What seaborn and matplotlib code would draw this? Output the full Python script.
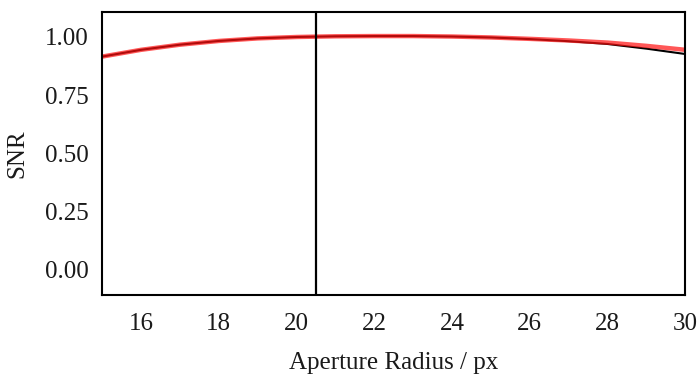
import numpy as np
import pandas as pd
import matplotlib
matplotlib.use("Agg")
import matplotlib.pyplot as plt
import seaborn as sns

# =====================================================
# Data
# =====================================================

radius = [15, 16, 17, 18, 19, 20, 21, 22, 23, 24, 25, 26, 27, 28, 29, 30]

snr_measured = [0.915, 0.944, 0.966, 0.982, 0.993, 0.999, 1.002, 1.003,
                1.003, 1.001, 0.997, 0.990, 0.981, 0.969, 0.949, 0.926]

snr_model = [0.915, 0.944, 0.966, 0.982, 0.993, 0.999, 1.002, 1.003,
             1.003, 1.001, 0.997, 0.991, 0.984, 0.975, 0.961, 0.944]

best_radius = 20.5

df = pd.DataFrame({
    "radius": radius,
    "measured": snr_measured,
    "model": snr_model
})

# =====================================================
# Style
# =====================================================

sns.set_theme(style="white")
plt.rcParams["font.family"] = ["Liberation Serif", "DejaVu Serif"]

fig, ax = plt.subplots(figsize=(7, 3.81), dpi=100)

sns.lineplot(data=df, x="radius", y="measured", color="black",
             linewidth=1.5, ax=ax)
sns.lineplot(data=df, x="radius", y="model", color="#ff1010",
             linewidth=3.2, alpha=0.7, ax=ax)

ax.axvline(best_radius, color="black", linewidth=1.6)

ax.set_xlim(15, 30)
ax.set_ylim(-0.107, 1.107)
ax.set_xticks([16, 18, 20, 22, 24, 26, 28, 30])
ax.set_yticks([0.0, 0.25, 0.5, 0.75, 1.0])
ax.set_yticklabels(["0.00", "0.25", "0.50", "0.75", "1.00"])

ax.tick_params(axis="both", length=0, labelsize=18, colors="#1a1a1a")
ax.tick_params(axis="x", pad=13)
ax.tick_params(axis="y", pad=10)

ax.set_xlabel("Aperture Radius / px", fontsize=18, color="#1a1a1a", labelpad=12)
ax.set_ylabel("SNR", fontsize=18, color="#1a1a1a", labelpad=12)

for spine in ax.spines.values():
    spine.set_color("black")
    spine.set_linewidth(1.5)

fig.subplots_adjust(left=0.146, right=0.979, top=0.969, bottom=0.226)

plt.savefig("out.png", dpi=100)
plt.close()
